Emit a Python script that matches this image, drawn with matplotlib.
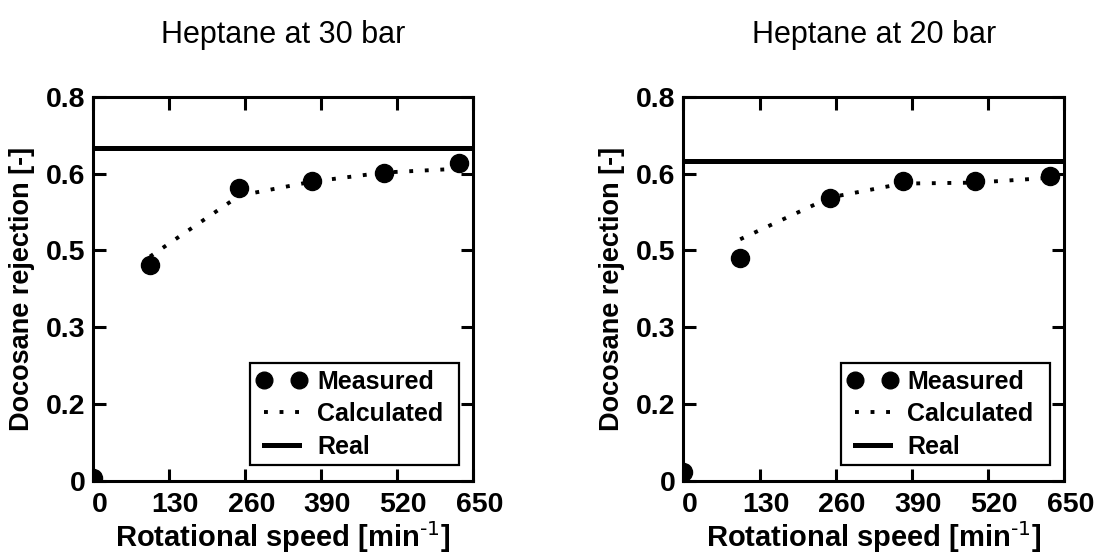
import matplotlib
matplotlib.use("Agg")
import matplotlib.pyplot as plt
import matplotlib.transforms as mtransforms

plt.rcParams["font.family"] = ["Liberation Sans", "DejaVu Sans"]
plt.rcParams["mathtext.default"] = "regular"

# ---- data ----
speed = [0, 97, 250, 374, 497, 625]
speed_calc = [97, 250, 374, 497, 625]

meas_30 = [0.005, 0.449, 0.609, 0.624, 0.642, 0.662]
calc_30 = [0.467, 0.594, 0.623, 0.642, 0.650]
real_30 = 0.694

meas_20 = [0.019, 0.463, 0.588, 0.625, 0.625, 0.635]
calc_20 = [0.503, 0.590, 0.619, 0.621, 0.631]
real_20 = 0.666

titles = ["Heptane at 30 bar", "Heptane at 20 bar"]
xticks = [0, 130, 260, 390, 520, 650]
yticks = [0, 0.16, 0.32, 0.48, 0.64, 0.8]
ytick_labels = ["0", "0.2", "0.3", "0.5", "0.6", "0.8"]


def draw_panel(ax, meas, calc, real, title):
    ax.plot(speed_calc, calc, color="black", lw=2.8, ls=(0, (1, 3)),
            label="Calculated", zorder=2)
    ax.axhline(real, color="black", lw=3.6, label="Real", zorder=2)
    ax.plot(speed, meas, ls="none", marker="o", ms=13, color="black",
            label="Measured", zorder=3)

    ax.set_xlim(0, 650)
    ax.set_ylim(0, 0.8)
    ax.set_xticks(xticks)
    ax.set_xticklabels([str(v) for v in xticks])
    ax.set_yticks(yticks)
    ax.set_yticklabels(ytick_labels)
    ax.tick_params(direction="in", top=True, right=True, length=9, width=2.2,
                   labelsize=20.5)
    ax.tick_params(axis="x", pad=8)
    ax.tick_params(axis="y", pad=5.5)
    for lab in ax.get_xticklabels() + ax.get_yticklabels():
        lab.set_fontweight("bold")
    # the source shifts x tick labels a little to the right
    shift = mtransforms.ScaledTranslation(0.06, 0, ax.figure.dpi_scale_trans)
    for lab in ax.get_xticklabels():
        lab.set_transform(lab.get_transform() + shift)
    for sp in ax.spines.values():
        sp.set_linewidth(2.2)

    ax.set_xlabel(r"Rotational speed [min$^{\text{-1}}$]", fontsize=21,
                  fontweight="bold", labelpad=1)
    ax.set_ylabel("Docosane rejection [-]", fontsize=19.5, fontweight="bold",
                  labelpad=8)
    ax.set_title(title, fontsize=22, pad=39)

    h, l = ax.get_legend_handles_labels()
    order = [2, 0, 1]
    leg = ax.legend([h[i] for i in order], [l[i] for i in order],
                    loc="lower left", bbox_to_anchor=(0.413, 0.04, 0.55, 0.3),
                    mode="expand", borderaxespad=0, numpoints=2,
                    handlelength=2.0, handletextpad=0.4, labelspacing=0.34,
                    borderpad=0.27, fancybox=False, framealpha=1,
                    edgecolor="black", prop={"size": 18, "weight": "bold"})
    leg.get_frame().set_linewidth(1.6)
    for lh in leg.legend_handles:
        if lh.get_marker() == "o":
            lh.set_markersize(12)


fig = plt.figure(figsize=(11, 5.58), dpi=100)
ax1 = fig.add_axes([0.0848, 0.1385, 0.3455, 0.6882])
ax2 = fig.add_axes([0.6212, 0.1385, 0.3464, 0.6882])

draw_panel(ax1, meas_30, calc_30, real_30, titles[0])
draw_panel(ax2, meas_20, calc_20, real_20, titles[1])

fig.savefig("out.png", dpi=100)
